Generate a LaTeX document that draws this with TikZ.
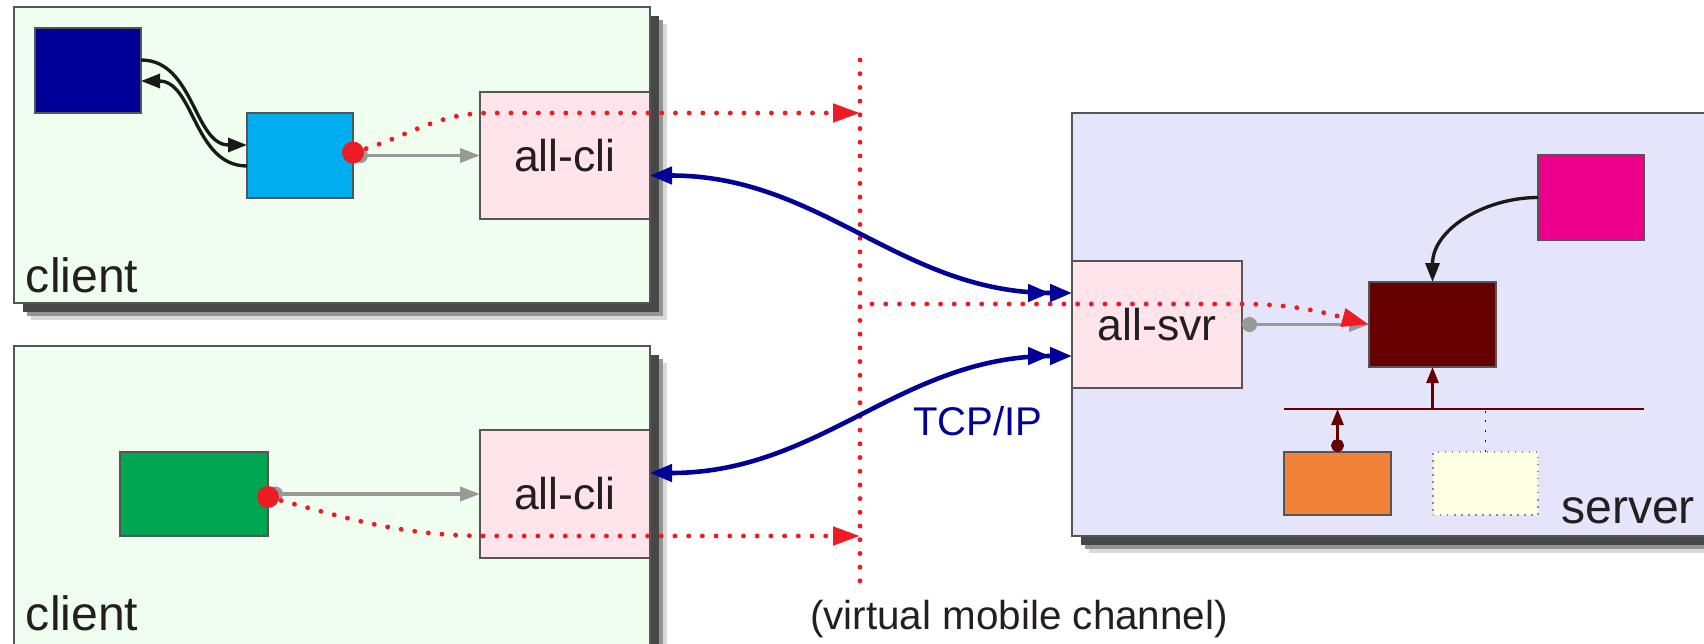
\documentclass[tikz,border=0pt]{standalone}
\usepackage{fontspec}
\setmainfont{Liberation Sans}
\usetikzlibrary{positioning,arrows.meta,shadows}
\definecolor{ink}{RGB}{35,31,32}
\definecolor{boxline}{RGB}{85,85,85}
\definecolor{clientbg}{RGB}{240,254,240}
\definecolor{serverbg}{RGB}{228,228,250}
\definecolor{agentpink}{RGB}{255,228,235}
\definecolor{deepblue}{RGB}{0,0,153}
\definecolor{skyblue}{RGB}{0,174,239}
\definecolor{leafgreen}{RGB}{0,166,81}
\definecolor{maroon}{RGB}{102,0,0}
\definecolor{hotpink}{RGB}{236,0,140}
\definecolor{tangerine}{RGB}{242,130,56}
\definecolor{cream}{RGB}{255,255,229}
\definecolor{signalred}{RGB}{237,28,36}
\definecolor{feedgray}{RGB}{153,153,153}
\definecolor{netblue}{RGB}{0,0,153}

\begin{document}
\begin{tikzpicture}[
  every node/.style={inner sep=0pt, outer sep=0pt, text=ink},
  hostbox/.style={draw=boxline, line width=0.5pt,
    drop shadow={shadow xshift=4.8pt, shadow yshift=-4.8pt, fill=black!15, opacity=1},
    drop shadow={shadow xshift=3.7pt, shadow yshift=-3.7pt, fill=black!42, opacity=1},
    drop shadow={shadow xshift=2.6pt, shadow yshift=-2.6pt, fill=black!72, opacity=1}},
  hostlabel/.style={font=\fontsize{13.7}{16}\selectfont},
  block/.style={draw=boxline, line width=0.4pt, minimum width=1.06cm, minimum height=0.85cm},
  agent/.style={draw=boxline, line width=0.4pt, fill=agentpink, minimum width=1.7cm,
    minimum height=1.27cm, font=\fontsize{12.7}{15}\selectfont},
  ctrl/.style={draw=black!90, line width=0.95pt, -{Triangle[length=1.9mm,width=1.4mm]}},
  feedarr/.style={draw=feedgray, line width=1pt,
    {Circle[length=1.5mm]}-{Triangle[length=2mm,width=1.4mm]}},
  virt/.style={draw=signalred, line width=1.4pt, line cap=round, dash pattern=on 0pt off 3.9pt},
  virtarr/.style={virt, -{Triangle[length=2.7mm,width=1.8mm]}},
  net/.style={draw=netblue, line width=1.3pt,
    {Triangle[length=2.2mm,width=1.7mm]}-{Triangle[length=2.2mm,width=1.7mm]Triangle[length=2.2mm,width=1.7mm]}},
  bus/.style={draw=maroon, line width=0.8pt},
  busarr/.style={bus, -{Triangle[length=1.6mm,width=1.2mm]}}
]
  \useasboundingbox (0,0) rectangle (17.04,6.43);
  \clip (0,0) rectangle (17.04,6.43);

  \node[hostbox, fill=clientbg, minimum width=6.36cm, minimum height=2.96cm] (cl1) at (3.32,4.88) {};
  \node[hostbox, fill=clientbg, minimum width=6.36cm, minimum height=3.17cm] (cl2) at (3.32,1.385) {};
  \node[hostbox, fill=serverbg, minimum width=6.58cm, minimum height=4.23cm] (srvbox) at (14.01,3.185) {};
  \node[hostlabel, anchor=base west] (lbl1) at (0.26,3.51) {client};
  \node[hostlabel, anchor=base west] (lbl2) at (0.26,0.13) {client};
  \node[hostlabel, anchor=base east] (lbl3) at (16.95,1.20) {server};

  \node[block, fill=deepblue] (ui) at (0.88,5.725) {};
  \node[block, fill=skyblue] (app1) at (3.00,4.875) {};
  \node[agent] (cli1) at (5.65,4.875) {all-cli};
  \node[block, fill=leafgreen, minimum width=1.48cm, minimum height=0.84cm] (app2) at (1.94,1.49) {};
  \node[agent, minimum height=1.28cm] (cli2) at (5.65,1.49) {all-cli};
  \node[agent] (asvr) at (11.57,3.185) {all-svr};
  \node[block, fill=maroon, minimum width=1.27cm] (core) at (14.325,3.185) {};
  \node[block, fill=hotpink] (feed) at (15.91,4.455) {};
  \node[block, fill=tangerine, minimum width=1.07cm, minimum height=0.63cm] (dev1) at (13.375,1.595) {};
  \node[block, fill=cream, draw=black!45, dash pattern=on 0.4pt off 1.6pt,
        minimum width=1.05cm, minimum height=0.63cm] (dev2) at (14.855,1.595) {};

  \node[text=netblue, font=\fontsize{11.4}{14}\selectfont] (tcp) at (9.78,2.22) {TCP/IP};
  \node[font=\fontsize{11.5}{14}\selectfont] (vmc) at (10.19,0.24) {(virtual mobile channel)};

  \coordinate (chtop) at (8.60,5.83);
  \coordinate (chbot) at (8.60,0.55);
  \coordinate (ch1) at (8.60,5.30);
  \coordinate (ch2) at (8.60,1.07);
  \coordinate (ch3) at (8.72,3.39);
  \coordinate (busL) at (12.84,2.34);
  \coordinate (busR) at (16.44,2.34);

  \draw[ctrl] ([yshift=1.05mm]ui.east) to[out=0,in=180] ([yshift=1.05mm]app1.west);
  \draw[ctrl] ([yshift=-1.05mm]app1.west) to[out=180,in=0] ([yshift=-1.05mm]ui.east);
  \draw[feedarr] (app1.east) -- (cli1.west);
  \draw[feedarr] (app2.east) -- (cli2.west);
  \draw[feedarr] (asvr.east) -- (core.west);

  \draw[virt] (chtop) -- (chbot);
  \draw[virtarr] ([yshift=0.3mm]app1.east) to[out=15,in=180] (4.9,5.30) -- (ch1);
  \draw[virtarr] ([yshift=-0.3mm]app2.east) to[out=-15,in=180] (4.9,1.07) -- (ch2);
  \draw[virtarr] (ch3) -- (12.40,3.39) to[out=0,in=165] (core.west);
  \fill[signalred] ([yshift=0.3mm]app1.east) circle (0.11);
  \fill[signalred] ([yshift=-0.3mm]app2.east) circle (0.11);

  \draw[net] ([yshift=-2mm]cli1.east) to[out=0,in=180] ([yshift=3.15mm]asvr.west);
  \draw[net] ([yshift=2.1mm]cli2.east) to[out=0,in=180] ([yshift=-3.15mm]asvr.west);

  \draw[ctrl] (feed.west) to[out=180,in=90] (core.north);
  \draw[bus] (busL) -- (busR);
  \draw[busarr] (core.south |- busL) -- (core.south);
  \draw[busarr, {Circle[length=1.3mm]}-{Triangle[length=1.6mm,width=1.2mm]}] (dev1.north) -- (dev1.north |- busL);
  \draw[maroon, line width=0.5pt, dash pattern=on 0.6pt off 2.2pt] (dev2.north) -- (dev2.north |- busL);
\end{tikzpicture}
\end{document}
